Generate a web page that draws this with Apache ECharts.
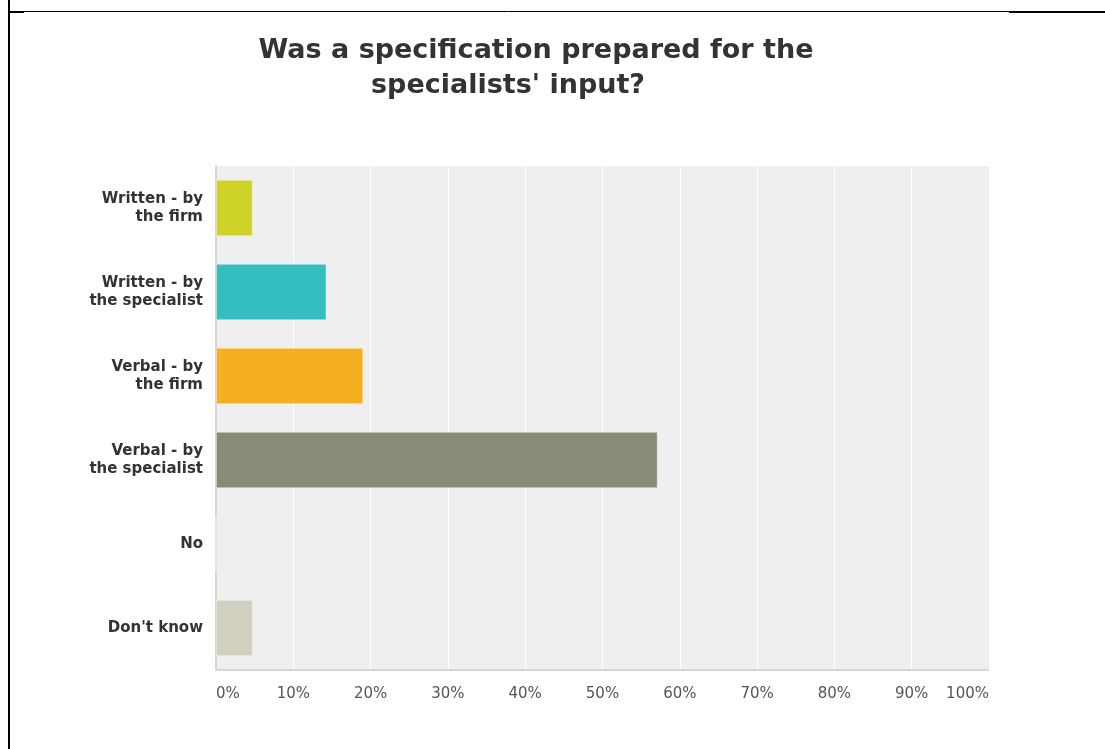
<!DOCTYPE html>
<html><head><meta charset="utf-8">
<script src="https://cdn.jsdelivr.net/npm/echarts@6/dist/echarts.min.js"></script>
<style>html,body{margin:0;padding:0;background:#fff}#c{width:1105px;height:749px}</style>
</head><body><div id="c"></div>
<script>
const titleLines = ["Was a specification prepared for the", "specialists' input?"];
const categories = ["Written - by\nthe firm", "Written - by\nthe specialist", "Verbal - by\nthe firm", "Verbal - by\nthe specialist", "No", "Don't know"];
const values = [4.76, 14.29, 19.05, 57.14, 0, 4.76];
const colors = ["#cfd327", "#35bec0", "#f6af20", "#898a78", "#c8c8b8", "#d0cfc0"];
const tickValues = [0, 10, 20, 30, 40, 50, 60, 70, 80, 90, 100];

const titleStyle = {fontFamily: 'DejaVu Sans, Verdana', fontWeight: 'bold', fontSize: 27, color: '#333'};
const chart = echarts.init(document.getElementById('c'), null, {renderer: 'canvas'});
chart.setOption({
  animation: false,
  backgroundColor: '#fff',
  title: [
    {text: titleLines[0], left: 536, top: 37, textAlign: 'center', padding: 0, textStyle: titleStyle},
    {text: titleLines[1], left: 508, top: 72, textAlign: 'center', padding: 0, textStyle: titleStyle}
  ],
  grid: {left: 216, right: 116, top: 166, bottom: 79, backgroundColor: '#efefef', show: true, borderWidth: 0},
  xAxis: {
    type: 'value', min: 0, max: 100, interval: 10,
    axisLine: {show: false}, axisTick: {show: false},
    splitLine: {show: true, lineStyle: {color: '#ffffff', width: 1}},
    axisLabel: {formatter: v => v + '%', color: '#555', fontFamily: 'DejaVu Sans, Verdana', fontSize: 15, margin: 17,
      alignMinLabel: 'left', alignMaxLabel: 'right'}
  },
  yAxis: {
    type: 'category', data: categories, inverse: true,
    axisLine: {show: true, lineStyle: {color: '#d6d6d6', width: 2}},
    axisTick: {show: false},
    axisLabel: {color: '#333', fontFamily: 'DejaVu Sans, Verdana', fontWeight: 'bold', fontSize: 15, lineHeight: 18, margin: 13, align: 'right'}
  },
  graphic: [
    {type: 'line', shape: {x1: 9, y1: 0, x2: 9, y2: 749}, style: {stroke: '#000', lineWidth: 2}},
    {type: 'line', shape: {x1: 8, y1: 11.5, x2: 1009, y2: 11.5}, style: {stroke: '#000', lineWidth: 1}},
    {type: 'line', shape: {x1: 1009, y1: 12, x2: 1105, y2: 12}, style: {stroke: '#000', lineWidth: 2}},
    {type: 'line', shape: {x1: 9, y1: 12, x2: 24, y2: 12}, style: {stroke: '#000', lineWidth: 2}},
    {type: 'line', shape: {x1: 216, y1: 670, x2: 989, y2: 670}, style: {stroke: '#d6d6d6', lineWidth: 2}, z: 10}
  ],
  series: [{
    type: 'bar', barCategoryGap: '33%',
    data: values.map((v, i) => ({value: v, itemStyle: {color: colors[i]}})),
    itemStyle: {borderColor: 'rgba(255,255,255,0.35)', borderWidth: 1}
  }]
});
</script></body></html>
